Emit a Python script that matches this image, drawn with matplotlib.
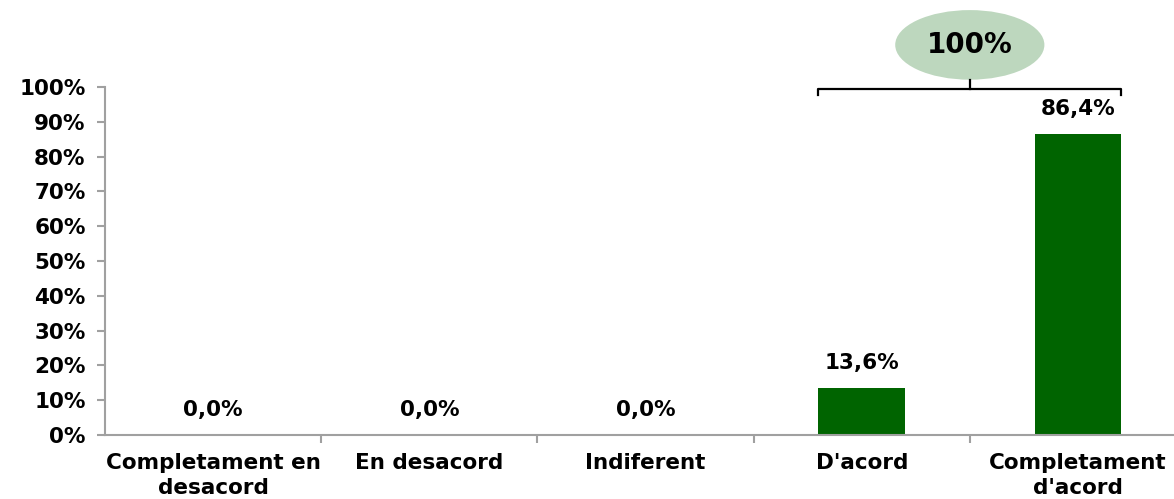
import matplotlib.pyplot as plt
from matplotlib.patches import Ellipse

categories = ["Completament en\ndesacord", "En desacord", "Indiferent", "D'acord", "Completament\nd'acord"]
values = [0.0, 0.0, 0.0, 13.6, 86.4]
total_label = "100%"

plt.rcParams['font.family'] = ['DejaVu Sans']
plt.rcParams['font.weight'] = 'bold'

fig = plt.figure(figsize=(11.74, 4.99), dpi=100)
ax = fig.add_axes([105 / 1174, 64 / 499, 1081 / 1174, 348 / 499])

fs = 15.5
x = list(range(len(categories)))
bar_w = 0.4
ax.bar(x, values, width=bar_w, color='#006400', zorder=2)

for xi, v in zip(x, values):
    ax.annotate(f"{v:.1f}%".replace('.', ','), (xi, v), xytext=(0, 18), textcoords='offset points',
                ha='center', va='center', fontsize=fs, fontweight='bold')

ax.set_xlim(-0.5, len(categories) - 0.5)
ax.set_ylim(0, 100)
ax.set_yticks(range(0, 101, 10))
ax.set_yticklabels([f"{t}%" for t in range(0, 101, 10)], fontsize=fs, fontweight='bold')
ax.set_xticks(x)
ax.set_xticklabels(categories, fontsize=fs, fontweight='bold', linespacing=1.3)
ax.set_xticks([i + 0.5 for i in x[:-1]], minor=True)
ax.tick_params(axis='x', which='major', length=0, pad=13)
ax.tick_params(axis='x', which='minor', length=6, color='#A0A0A0', width=1.5)
ax.tick_params(axis='y', length=6, color='#A0A0A0', width=1.5, pad=8)

for s in ['top', 'right']:
    ax.spines[s].set_visible(False)
for s in ['left', 'bottom']:
    ax.spines[s].set_color('#A0A0A0')
    ax.spines[s].set_linewidth(1.5)

# bracket over the two "agree" bars
x0 = x[3] - bar_w / 2
x1 = x[4] + bar_w / 2
xm = (x0 + x1) / 2
yb = 99.4
ax.plot([x0, x0, x1, x1], [97.6, yb, yb, 97.6], color='black', lw=1.6, clip_on=False, solid_joinstyle='round')
ax.plot([xm, xm], [yb, 102], color='black', lw=1.6, clip_on=False)
ell = Ellipse((xm, 112.1), 0.69, 20, facecolor='#BDD7BE', edgecolor='none', clip_on=False)
ax.add_patch(ell)
ax.text(xm, 112.1, total_label, ha='center', va='center', fontsize=20, fontweight='bold')

fig.savefig('out.png', dpi=100)
